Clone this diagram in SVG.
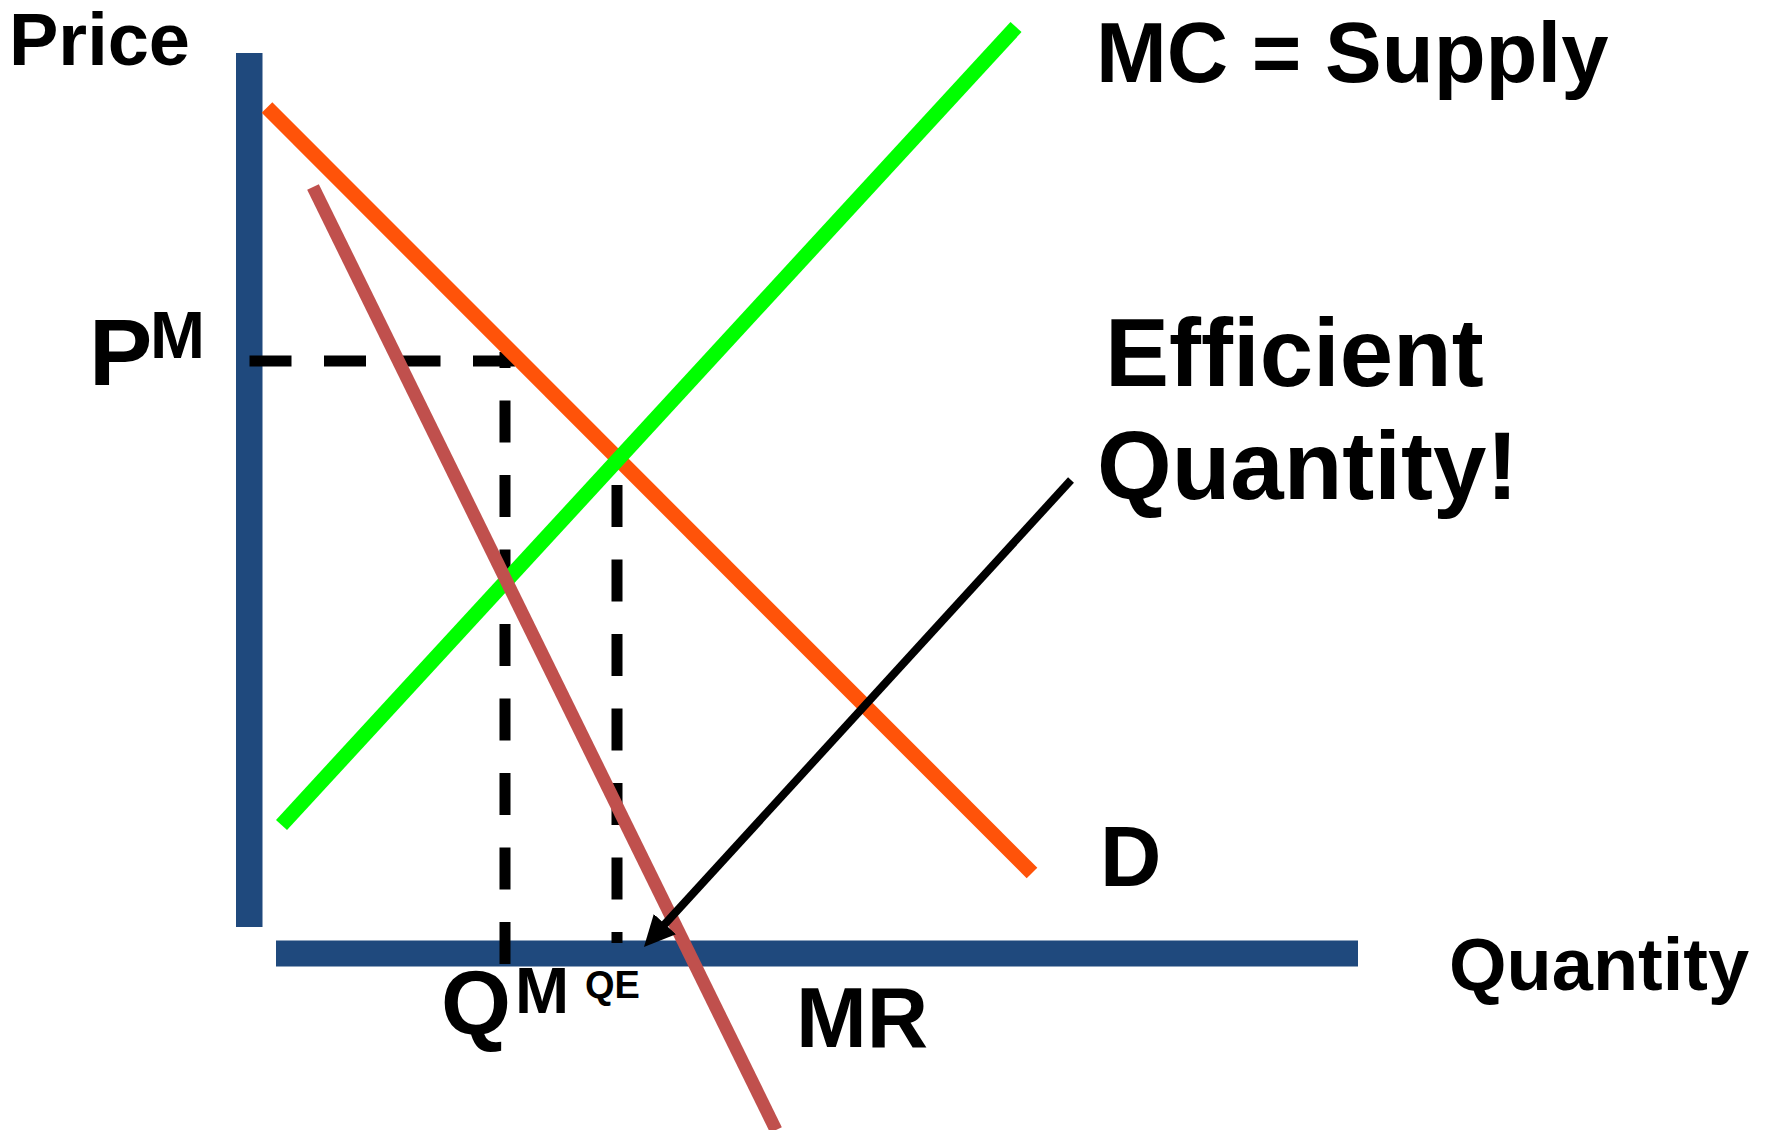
<svg xmlns="http://www.w3.org/2000/svg" width="1765" height="1130" viewBox="0 0 1765 1130">
<style>
  .lbl { font-family: "Liberation Sans", Arial, sans-serif; font-weight: bold; fill: #000; }
  .axis { fill: #1F497D; }
  .curve { fill: none; stroke-linecap: butt; }
  .dash { fill: none; stroke: #000; stroke-width: 11; stroke-dasharray: 42 32.5; }
</style>
<defs>
  <marker id="arrowhead" markerUnits="userSpaceOnUse" markerWidth="31" markerHeight="30" refX="5" refY="15" orient="auto">
    <path d="M0,0 L31,15 L0,30 z" fill="#000"/>
  </marker>
</defs>
<rect width="1765" height="1130" fill="#fff"/>

<g id="axes">
  <rect id="price-axis" class="axis" x="236" y="53" width="26.5" height="874"/>
  <rect id="quantity-axis" class="axis" x="276" y="940.5" width="1082" height="26"/>
</g>

<g id="guides">
  <line id="pm-guide" class="dash" x1="249.5" y1="361" x2="515" y2="361"/>
  <line id="qm-guide" class="dash" x1="505" y1="964" x2="505" y2="352"/>
  <line id="qe-guide" class="dash" x1="617" y1="485" x2="617" y2="943" stroke-dasharray="42.5 32.2"/>
</g>

<g id="connectors">
  <line id="demand" class="curve" x1="267" y1="107.5" x2="1032" y2="873" stroke="#FF5309" stroke-width="15"/>
  <line id="mc-supply" class="curve" x1="281.5" y1="825" x2="1016" y2="27" stroke="#00FF00" stroke-width="15"/>
  <line id="mr" class="curve" x1="313" y1="187" x2="776" y2="1130" stroke="#C0504D" stroke-width="13"/>
  <line id="efficient-arrow" class="curve" x1="1071" y1="480" x2="661.5" y2="927.8" stroke="#000" stroke-width="8" marker-end="url(#arrowhead)"/>
</g>

<g id="label-price"><text class="lbl" x="9" y="65" font-size="74">Price</text></g>
<g id="label-pm">
  <text class="lbl" x="89" y="385" font-size="95">P</text>
  <text class="lbl" x="150" y="358" font-size="66">M</text>
</g>
<g id="label-qm">
  <text class="lbl" x="441" y="1034" font-size="90">Q</text>
  <text class="lbl" x="515" y="1013" font-size="65">M</text>
</g>
<g id="label-qe"><text class="lbl" x="585" y="998" font-size="38">QE</text></g>
<g id="label-mr"><text class="lbl" x="796" y="1047" font-size="85">MR</text></g>
<g id="label-d"><text class="lbl" x="1100" y="886" font-size="85">D</text></g>
<g id="label-mc"><text class="lbl" x="1096" y="81.5" font-size="85">MC = Supply</text></g>
<g id="label-efficient">
  <text class="lbl" x="1105" y="386" font-size="96">Efficient</text>
  <text class="lbl" x="1097" y="499" font-size="96">Quantity!</text>
</g>
<g id="label-quantity"><text class="lbl" x="1449" y="990" font-size="74">Quantity</text></g>
</svg>
